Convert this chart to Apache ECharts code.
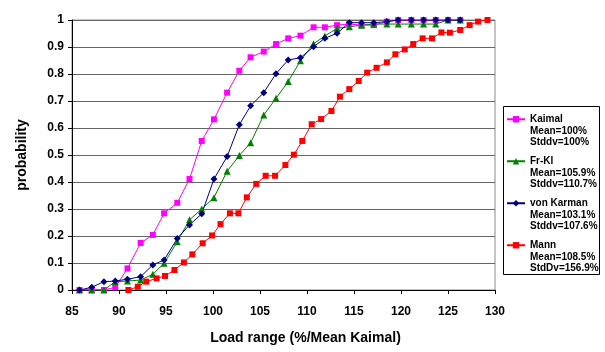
<!DOCTYPE html>
<html><head><meta charset="utf-8">
<script src="https://cdn.jsdelivr.net/npm/echarts@6/dist/echarts.min.js"></script>
<style>html,body{margin:0;padding:0;background:#fff}#c{width:605px;height:352px}</style>
</head><body><div id="c"></div>
<script>
// shared x positions (Kaimal, Fr-Kl, von Karman)
const binX = [85.8, 87.1, 88.4, 89.6, 90.9, 92.3, 93.6, 94.8, 96.2, 97.5, 98.8, 100.1, 101.5, 102.8, 104.0, 105.4, 106.7, 108.0, 109.3, 110.7, 111.9, 113.2, 114.5, 115.8, 117.1, 118.5, 119.7, 121.1, 122.4, 123.7, 125.0, 126.3];
const kaimalY = [0, 0, 0, 0.01, 0.08, 0.174, 0.204, 0.284, 0.323, 0.411, 0.552, 0.632, 0.731, 0.812, 0.862, 0.883, 0.911, 0.932, 0.942, 0.973, 0.973, 0.981, 0.985, 0.981, 0.981, 0.994, 1, 1, 1, 1, 1, 1];
const frklY = [0, 0, 0, 0.031, 0.033, 0.037, 0.058, 0.099, 0.179, 0.26, 0.3, 0.342, 0.44, 0.498, 0.545, 0.648, 0.71, 0.772, 0.849, 0.912, 0.941, 0.969, 0.975, 0.981, 0.985, 0.985, 0.985, 0.985, 0.985, 0.985, 1, 1];
const vonKarmanY = [0, 0.01, 0.031, 0.033, 0.04, 0.049, 0.093, 0.111, 0.191, 0.241, 0.282, 0.411, 0.494, 0.612, 0.682, 0.731, 0.801, 0.852, 0.86, 0.901, 0.932, 0.951, 0.99, 0.99, 0.99, 0.994, 1, 1, 1, 1, 1, 1];
const mannX = [91.0, 92.0, 92.9, 94.0, 94.9, 95.9, 96.9, 97.8, 98.9, 99.9, 100.8, 101.8, 102.7, 103.6, 104.6, 105.6, 106.6, 107.7, 108.6, 109.5, 110.5, 111.5, 112.6, 113.5, 114.5, 115.5, 116.4, 117.4, 118.5, 119.4, 120.4, 121.3, 122.3, 123.3, 124.3, 125.2, 126.3, 127.3, 128.2, 129.2];
const mannY = [0, 0.012, 0.031, 0.043, 0.052, 0.074, 0.102, 0.132, 0.173, 0.202, 0.244, 0.284, 0.284, 0.343, 0.393, 0.423, 0.423, 0.463, 0.501, 0.552, 0.614, 0.633, 0.663, 0.716, 0.744, 0.774, 0.805, 0.823, 0.843, 0.873, 0.891, 0.911, 0.932, 0.932, 0.954, 0.953, 0.963, 0.981, 0.994, 1.0];

const seriesNames = ['Kaimal', 'Fr-Kl', 'von Karman', 'Mann'];
const meanLabels = ['Mean=100%', 'Mean=105.9%', 'Mean=103.1%', 'Mean=108.5%'];
const stdLabels = ['Stddv=100%', 'Stddv=110.7%', 'Stddv=107.6%', 'StdDv=156.9%'];
const xTitle = 'Load range (%/Mean Kaimal)';
const yTitle = 'probability';

const colors = ['#FF00FF', '#008000', '#000080', '#FF0000'];
const symbols = ['rect', 'triangle', 'diamond', 'rect'];
const symbolSizes = [6, 7, 7, 6];
const xs = [binX, binX, binX, mannX];
const ys = [kaimalY, frklY, vonKarmanY, mannY];

const FONT = "'Liberation Sans', Arial, sans-serif";
const chart = echarts.init(document.getElementById('c'), null, {renderer: 'canvas'});

const legendTops = [90.5, 132.5, 174.5, 216.5];
const legends = seriesNames.map((n, i) => ({
  data: [n],
  orient: 'vertical',
  left: 506,
  top: legendTops[i],
  padding: 0,
  itemWidth: 18,
  itemHeight: 8,
  selectedMode: false,
  formatter: name => '\n\n' + name + '\n' + meanLabels[i] + '\n' + stdLabels[i],
  textStyle: {fontFamily: FONT, fontWeight: 'bold', fontSize: 10, color: '#000', lineHeight: 11.5}
}));

chart.setOption({
  animation: false,
  backgroundColor: '#fff',
  grid: {left: 72, right: 110, top: 20, bottom: 62, show: true, borderColor: '#8a8a8a', borderWidth: 1},
  legend: legends,
  graphic: [{type: 'rect', shape: {x: 503.5, y: 106.5, width: 96, height: 168}, style: {fill: 'none', stroke: '#000', lineWidth: 1}, silent: true}],
  xAxis: {
    type: 'value', min: 85, max: 130, interval: 5,
    name: xTitle, nameLocation: 'middle', nameGap: 41,
    nameTextStyle: {fontFamily: FONT, fontWeight: 'bold', fontSize: 14, color: '#000', padding: [0, 0, 0, 44]},
    axisLine: {show: true, onZero: false, lineStyle: {color: '#000', width: 1}},
    axisTick: {show: true, length: 4, lineStyle: {color: '#000'}},
    axisLabel: {fontFamily: FONT, fontWeight: 'bold', fontSize: 12, color: '#000', margin: 16},
    splitLine: {show: false}
  },
  yAxis: {
    type: 'value', min: 0, max: 1, interval: 0.1,
    name: yTitle, nameLocation: 'middle', nameGap: 43, nameRotate: 90,
    nameTextStyle: {fontFamily: FONT, fontWeight: 'bold', fontSize: 14, color: '#000'},
    axisLine: {show: true, lineStyle: {color: '#000', width: 1}},
    axisTick: {show: true, length: 4, lineStyle: {color: '#000'}},
    axisLabel: {fontFamily: FONT, fontWeight: 'bold', fontSize: 12, color: '#000', margin: 8},
    splitLine: {show: true, lineStyle: {color: '#666', width: 1}}
  },
  series: seriesNames.map((n, i) => ({
    name: n, type: 'line',
    data: xs[i].map((x, j) => [x, ys[i][j]]),
    symbol: symbols[i], symbolSize: symbolSizes[i],
    showAllSymbol: true,
    lineStyle: {color: colors[i], width: 1},
    itemStyle: {color: colors[i], borderWidth: 0},
    emphasis: {disabled: true}
  }))
});
</script>
</body></html>
